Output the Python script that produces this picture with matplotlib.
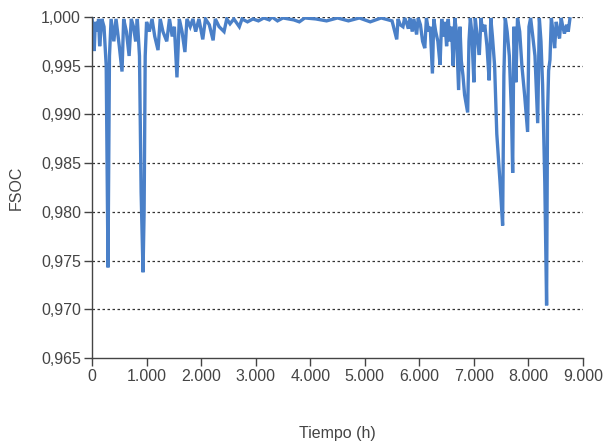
import matplotlib.pyplot as plt
from matplotlib.ticker import FuncFormatter, MultipleLocator

# horas del año y FSOC
horas = [0, 20, 40, 60, 100, 120, 140, 180, 220, 260, 293, 320, 350, 400, 440,
         500, 550, 580, 630, 680, 720, 760, 800, 830, 870, 900, 935, 955, 975,
         1000, 1050, 1100, 1150, 1210, 1250, 1300, 1370, 1420, 1470, 1510, 1557,
         1600, 1650, 1703, 1740, 1800, 1850, 1900, 1960, 2030, 2080, 2150, 2220,
         2260, 2330, 2420, 2470, 2530, 2600, 2700, 2750, 2850, 2950, 3050, 3150,
         3250, 3300, 3400, 3500, 3700, 3800, 3900, 4100, 4300, 4500, 4700, 4900,
         5100, 5300, 5500, 5586, 5610, 5650, 5700, 5730, 5760, 5800, 5830, 5870,
         5900, 5950, 5980, 6020, 6060, 6100, 6130, 6170, 6200, 6240, 6265, 6300,
         6340, 6380, 6410, 6440, 6470, 6500, 6530, 6560, 6590, 6620, 6650, 6680,
         6720, 6745, 6770, 6800, 6830, 6860, 6886, 6910, 6935, 6960, 7000, 7025,
         7060, 7100, 7130, 7160, 7200, 7240, 7280, 7310, 7340, 7380, 7420, 7480,
         7527, 7550, 7575, 7610, 7650, 7690, 7711, 7735, 7770, 7800, 7840, 7880,
         7930, 7985, 8010, 8040, 8080, 8120, 8170, 8200, 8230, 8260, 8300, 8333,
         8350, 8370, 8395, 8420, 8450, 8480, 8510, 8540, 8570, 8600, 8630, 8660,
         8700, 8730, 8760]
fsoc = [0.9998, 0.9990, 0.9965, 0.9995, 0.9985, 0.9998, 0.9970, 0.9998, 0.9990,
        0.9950, 0.9743, 0.9960, 0.9998, 0.9975, 0.9998, 0.9970, 0.9944, 0.9998,
        0.9985, 0.9960, 0.9998, 0.9990, 0.9975, 0.9998, 0.9960, 0.9820, 0.9738,
        0.9800, 0.9960, 0.9995, 0.9985, 0.9998, 0.9980, 0.9966, 0.9998, 0.9985,
        0.9975, 0.9998, 0.9980, 0.9990, 0.9938, 0.9998, 0.9985, 0.9964, 0.9998,
        0.9990, 0.9998, 0.9985, 0.9998, 0.9977, 0.9998, 0.9992, 0.9976, 0.9998,
        0.9990, 0.9985, 0.9998, 0.9993, 0.9998, 0.9990, 0.9998, 0.9995, 0.9998,
        0.9996, 0.9999, 0.9997, 1.0000, 0.9996, 0.9999, 0.9997, 0.9995, 0.9999,
        0.9998, 0.9996, 0.9999, 0.9996, 0.9999, 0.9995, 0.9999, 0.9996, 0.9977,
        0.9998, 0.9992, 0.9990, 0.9999, 0.9995, 0.9988, 0.9999, 0.9985, 0.9998,
        0.9982, 0.9999, 0.9992, 0.9975, 0.9968, 0.9999, 0.9985, 0.9990, 0.9942,
        0.9998, 0.9985, 0.9975, 0.9951, 0.9998, 0.9980, 0.9995, 0.9970, 0.9998,
        0.9975, 0.9990, 0.9950, 0.9999, 0.9985, 0.9925, 0.9990, 0.9955, 0.9940,
        0.9920, 0.9910, 0.9902, 0.9975, 0.9999, 0.9985, 0.9933, 0.9999, 0.9980,
        0.9961, 0.9999, 0.9985, 0.9992, 0.9970, 0.9935, 0.9999, 0.9980, 0.9950,
        0.9880, 0.9830, 0.9786, 0.9940, 0.9999, 0.9985, 0.9960, 0.9900, 0.9840,
        0.9990, 0.9933, 0.9999, 0.9985, 0.9950, 0.9920, 0.9882, 0.9990, 0.9999,
        0.9980, 0.9960, 0.9891, 0.9999, 0.9975, 0.9930, 0.9830, 0.9704, 0.9900,
        0.9945, 0.9956, 0.9999, 0.9985, 0.9968, 0.9995, 0.9985, 0.9978, 0.9999,
        0.9990, 0.9983, 0.9992, 0.9985, 0.9998]

plt.rcParams['font.family'] = ['Liberation Sans', 'DejaVu Sans']

fig = plt.figure(figsize=(6.03, 4.41), dpi=100)
ax = fig.add_axes([0.1526, 0.1882, 0.8142, 0.7733])

ax.plot(horas, fsoc, color='#4a80c8', lw=2.4, solid_joinstyle='miter')

ax.set_xlim(0, 9000)
ax.set_ylim(0.965, 1.0)
ax.xaxis.set_major_locator(MultipleLocator(1000))
ax.yaxis.set_major_locator(MultipleLocator(0.005))
ax.xaxis.set_major_formatter(FuncFormatter(lambda v, p: f'{v:,.0f}'.replace(',', '.')))
ax.yaxis.set_major_formatter(FuncFormatter(lambda v, p: f'{v:.3f}'.replace('.', ',')))

# lineas punteadas horizontales
for yv in [0.970, 0.975, 0.980, 0.985, 0.990, 0.995, 1.000]:
    ax.axhline(yv, color='#333333', lw=0.9, ls=(0, (2, 2)), zorder=0)

for s in ['top', 'right']:
    ax.spines[s].set_visible(False)
for s in ['left', 'bottom']:
    ax.spines[s].set_color('#444444')
    ax.spines[s].set_linewidth(1.0)

ax.tick_params(direction='out', length=6, width=1, colors='#444444',
               labelsize=11.5, labelcolor='#444444', pad=2)
ax.set_xlabel('Tiempo (h)', fontsize=11.5, color='#444444', labelpad=30)
ax.set_ylabel('FSOC', fontsize=11.5, color='#444444', labelpad=12)

fig.savefig('out.png', dpi=100)
